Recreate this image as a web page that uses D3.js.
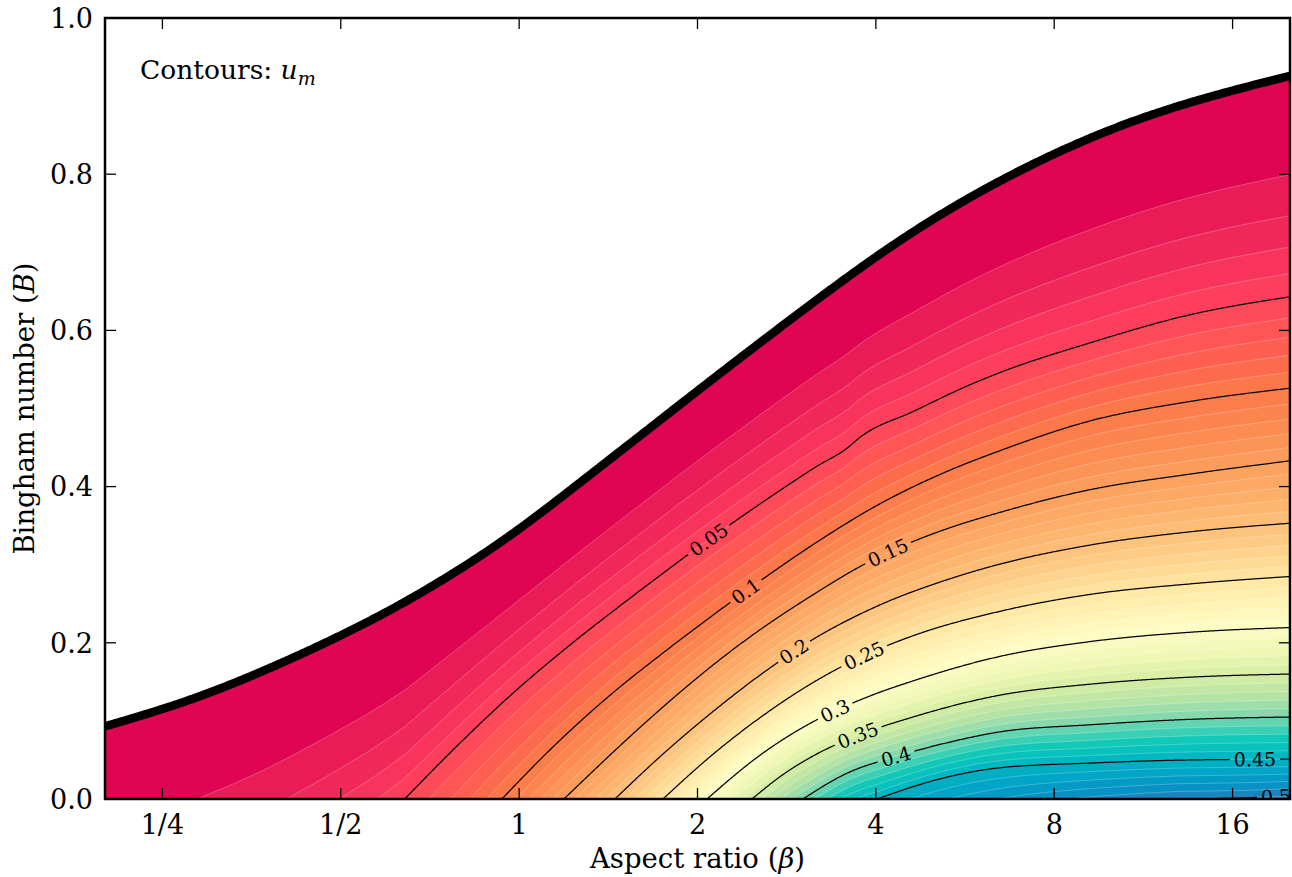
<!DOCTYPE html>
<html>
<head>
<meta charset="utf-8">
<script src="https://cdn.jsdelivr.net/npm/d3@7"></script>
<style>
  html, body { margin: 0; padding: 0; background: #fff; }
  svg { display: block; }
  text { font-family: "DejaVu Serif", serif; fill: #000; }
</style>
</head>
<body>
<svg id="chart" width="1292" height="877"></svg>
<script>
// ---------------- data ----------------
const betaTicks = [0.25, 0.5, 1, 2, 4, 8, 16];
const betaTickLabels = ["1/4", "1/2", "1", "2", "4", "8", "16"];
const binghamTicks = [0, 0.2, 0.4, 0.6, 0.8, 1.0];

// Yield limit (u_m = 0): [aspect ratio, Bingham number]
const yieldCurve = [
  [0.2, 0.093], [0.278, 0.127], [0.41, 0.179], [0.654, 0.256], [0.755, 0.284],
  [0.976, 0.340], [1.266, 0.405], [1.643, 0.472], [2.019, 0.525], [2.978, 0.623],
  [4.393, 0.715], [6.815, 0.80], [11.47, 0.874], [20, 0.926]
];

// Newtonian limit (B = 0): u_m against aspect ratio
const newtonianBeta = [0.2, 0.286, 0.405, 0.496, 0.576, 0.641, 0.935, 1.19, 1.451, 1.749, 2.075, 2.471, 3.013, 4.017, 13.04, 20];
const newtonianU    = [0.005, 0.01, 0.02, 0.03, 0.04, 0.05, 0.1, 0.15, 0.2, 0.25, 0.3, 0.35, 0.4, 0.45, 0.5, 0.504];

// Labelled contour lines of u_m: [aspect ratio, Bingham number]
const u05 = [[0.641, 0], [0.804, 0.0754], [0.976, 0.1354], [1.204, 0.194], [1.538, 0.257], [1.905, 0.31],
             [2.358, 0.36], [2.755, 0.395], [3.181, 0.426], [3.575, 0.449], [3.76, 0.463], [4.621, 0.496],
             [5.833, 0.532], [6.48, 0.546], [9.19, 0.584], [13.56, 0.62], [20, 0.643]];
const u10 = [[0.935, 0], [1.158, 0.0715], [1.44, 0.136], [1.749, 0.187], [2.099, 0.2325], [2.549, 0.279],
             [3.132, 0.3256], [4.064, 0.378], [5.273, 0.4194], [6.48, 0.446], [9.19, 0.484], [13.56, 0.509], [20, 0.526]];
const u15 = [[1.19, 0], [1.643, 0.0996], [1.868, 0.1366], [2.099, 0.1684], [2.424, 0.2047], [3.132, 0.2614],
             [3.834, 0.301], [4.567, 0.328], [5.273, 0.346], [6.48, 0.367], [9.19, 0.396], [13.56, 0.416], [20, 0.433]];
const u20 = [[1.451, 0], [1.749, 0.0576], [2.099, 0.1088], [2.579, 0.1613], [3.132, 0.2043], [4.064, 0.2485],
             [5.273, 0.2807], [6.48, 0.3008], [9.19, 0.3251], [13.56, 0.3421], [20, 0.3531]];
const u25 = [[1.749, 0], [2.099, 0.054], [2.549, 0.104], [3.132, 0.149], [3.805, 0.183], [4.621, 0.209],
             [6.48, 0.2403], [9.19, 0.2619], [13.56, 0.2754], [20, 0.2849]];
const u30 = [[2.075, 0], [2.579, 0.0588], [3.132, 0.0988], [3.909, 0.1319], [4.621, 0.1512], [6.48, 0.1826],
             [9.19, 0.2015], [13.56, 0.2135], [20, 0.2195]];
const u35 = [[2.471, 0], [2.809, 0.033], [3.132, 0.055], [3.717, 0.081], [4.621, 0.105], [6.48, 0.133],
             [9.19, 0.147], [13.56, 0.156], [20, 0.16]];
const u40 = [[3.013, 0], [3.575, 0.033], [4.308, 0.054], [5.273, 0.072], [6.48, 0.086], [9.19, 0.095],
             [13.56, 0.102], [20, 0.105]];
const u45 = [[4.017, 0], [5.273, 0.028], [6.48, 0.04], [9.19, 0.046], [13.56, 0.05], [20, 0.051]];
const u50 = [[13.04, 0], [16.47, 0.0013], [20, 0.004]];

const lineLevels = [0.05, 0.1, 0.15, 0.2, 0.25, 0.3, 0.35, 0.4, 0.45, 0.5];
const lineSets   = [u05, u10, u15, u20, u25, u30, u35, u40, u45, u50];
// aspect ratio at which each contour carries its inline label
const labelBeta  = [2.083, 2.405, 4.176, 2.898, 3.805, 3.412, 3.717, 4.308, 17.45, 18.87];

// filled bands
const fillStep = 0.01;
const fillMax = 0.5;
const colorStopU   = [0.005, 0.015, 0.025, 0.035, 0.045, 0.055, 0.075, 0.095, 0.125, 0.15, 0.175, 0.2, 0.225,
                      0.25, 0.275, 0.295, 0.325, 0.35, 0.375, 0.395, 0.41, 0.425, 0.445, 0.47, 0.49, 0.505];
const colorStopHex = ["#df0553", "#e91c58", "#f1295b", "#f8345d", "#fd3e5d", "#ff4a5a", "#fe5f50", "#fc774a",
                      "#fc8c52", "#fca05e", "#fdaf6a", "#fdc07a", "#fed38d", "#fee6a2", "#fff4b6", "#fdfcc4",
                      "#eef7b4", "#d6eea3", "#b4e3a6", "#86d9ad", "#4fd3b3", "#12c9b8", "#00b8c2", "#00a0c8",
                      "#0b8cc2", "#3478b6"];

// ---------------- layout ----------------
const X0 = 105, X1 = 1290, Y0 = 18, Y1 = 799;
const svg = d3.select("#chart");
svg.append("rect").attr("width", 1292).attr("height", 877).attr("fill", "#fff");

const x = d3.scaleLog().base(2).domain([0.2, 20]).range([X0, X1]);
const y = d3.scaleLinear().domain([0, 1]).range([Y1, Y0]);
const color = d3.scaleLinear().domain(colorStopU).range(colorStopHex)
  .interpolate(d3.interpolateRgb).clamp(true);

svg.append("defs").append("clipPath").attr("id", "plot-clip")
  .append("rect").attr("x", X0).attr("y", Y0).attr("width", X1 - X0).attr("height", Y1 - Y0);

// monotone cubic through (xs, ys), linear beyond the ends
function monotone(xs, ys) {
  const n = xs.length, h = [], s = [];
  for (let i = 0; i < n - 1; i++) { h.push(xs[i + 1] - xs[i]); s.push((ys[i + 1] - ys[i]) / h[i]); }
  const m = new Array(n).fill(0);
  for (let i = 1; i < n - 1; i++) {
    const p = (s[i - 1] * h[i] + s[i] * h[i - 1]) / (h[i - 1] + h[i]);
    m[i] = (Math.sign(s[i - 1]) + Math.sign(s[i])) *
           Math.min(Math.abs(s[i - 1]), Math.abs(s[i]), 0.5 * Math.abs(p)) || 0;
  }
  m[0] = n > 2 ? (3 * s[0] - m[1]) / 2 : s[0];
  m[n - 1] = n > 2 ? (3 * s[n - 2] - m[n - 2]) / 2 : s[n - 2];
  if (Math.sign(m[0]) !== Math.sign(s[0])) m[0] = 0;
  if (Math.sign(m[n - 1]) !== Math.sign(s[n - 2])) m[n - 1] = 0;
  return function (v) {
    if (v <= xs[0]) return ys[0] + m[0] * (v - xs[0]);
    if (v >= xs[n - 1]) return ys[n - 1] + m[n - 1] * (v - xs[n - 1]);
    const i = Math.min(n - 2, Math.max(0, d3.bisectRight(xs, v) - 1));
    const hh = h[i], t = (v - xs[i]) / hh, t2 = t * t, t3 = t2 * t;
    return (2 * t3 - 3 * t2 + 1) * ys[i] + (t3 - 2 * t2 + t) * hh * m[i] +
           (-2 * t3 + 3 * t2) * ys[i + 1] + (t3 - t2) * hh * m[i + 1];
  };
}

// natural cubic spline (C2) for the yield limit
function naturalSpline(xs, ys) {
  const n = xs.length, h = [];
  for (let i = 0; i < n - 1; i++) h.push(xs[i + 1] - xs[i]);
  const a = new Array(n).fill(0), b = new Array(n).fill(1), c = new Array(n).fill(0), r = new Array(n).fill(0);
  for (let i = 1; i < n - 1; i++) {
    a[i] = h[i - 1]; b[i] = 2 * (h[i - 1] + h[i]); c[i] = h[i];
    r[i] = 6 * ((ys[i + 1] - ys[i]) / h[i] - (ys[i] - ys[i - 1]) / h[i - 1]);
  }
  for (let i = 1; i < n; i++) { const w = a[i] / b[i - 1]; b[i] -= w * c[i - 1]; r[i] -= w * r[i - 1]; }
  const M = new Array(n).fill(0);
  M[n - 1] = r[n - 1] / b[n - 1];
  for (let i = n - 2; i >= 0; i--) M[i] = (r[i] - c[i] * M[i + 1]) / b[i];
  return function (v) {
    const i = Math.min(n - 2, Math.max(0, d3.bisectRight(xs, v) - 1));
    const hh = h[i], A = xs[i + 1] - v, B = v - xs[i];
    return M[i] * A * A * A / (6 * hh) + M[i + 1] * B * B * B / (6 * hh) +
           (ys[i] / hh - M[i] * hh / 6) * A + (ys[i + 1] / hh - M[i + 1] * hh / 6) * B;
  };
}

const yieldFn = naturalSpline(yieldCurve.map(d => x(d[0])), yieldCurve.map(d => d[1]));
const newtonFn = monotone(newtonianBeta.map(b => x(b)), newtonianU);
const isolines = lineLevels.map((level, k) => {
  const pts = lineSets[k];
  const xs = pts.map(d => x(d[0]));
  return { level, fn: monotone(xs, pts.map(d => d[1])), xStart: xs[0], labelX: x(labelBeta[k]) };
});

// u_m field on a pixel grid, stored as signed sqrt(u_m) so the yield edge stays sharp
function columnNodes(px) {
  const u0 = Math.max(newtonFn(px), 1e-6);
  const Bc = yieldFn(px);
  const nodes = [[0, Math.sqrt(u0)]];
  for (let k = isolines.length - 1; k >= 0; k--) {
    const iso = isolines[k];
    if (px <= iso.xStart || iso.level >= u0) continue;
    const b = iso.fn(px);
    const last = nodes[nodes.length - 1][0];
    if (b > last + 1e-5 && b < Bc - 1e-5) nodes.push([b, Math.sqrt(iso.level)]);
  }
  nodes.push([Bc, 0]);
  return nodes;
}
function nodeValue(nodes, B) {
  if (B <= 0) return nodes[0][1];
  const n = nodes.length;
  if (B >= nodes[n - 1][0]) {
    const [b0, w0] = nodes[n - 2], b1 = nodes[n - 1][0];
    return -(B - b1) * w0 / (b1 - b0);
  }
  for (let i = 1; i < n; i++) {
    if (B <= nodes[i][0]) {
      const [b0, w0] = nodes[i - 1], [b1, w1] = nodes[i];
      return w0 + (w1 - w0) * (B - b0) / (b1 - b0);
    }
  }
  return 0;
}

const step = 2;
const nx = Math.ceil((X1 - X0) / step) + 2, ny = Math.ceil((Y1 - Y0) / step) + 2;
const field = new Float64Array(nx * ny);
for (let i = 0; i < nx; i++) {
  const nodes = columnNodes(X0 + i * step);
  for (let j = 0; j < ny; j++) field[j * nx + i] = nodeValue(nodes, y.invert(Y0 + j * step));
}

const fillLevels = d3.range(0, fillMax + fillStep / 2, fillStep);
const bands = d3.contours().size([nx, ny]).thresholds(fillLevels.map(Math.sqrt))(field);
const gridPath = d3.geoPath(d3.geoTransform({
  point(gx, gy) { this.stream.point(X0 + (gx - 0.5) * step, Y0 + (gy - 0.5) * step); }
}));

const plot = svg.append("g").attr("clip-path", "url(#plot-clip)");
plot.append("g").selectAll("path").data(bands).join("path")
  .attr("d", gridPath)
  .attr("fill", (d, k) => color(fillLevels[k] + fillStep / 2))
  .attr("stroke", (d, k) => k === 0 ? "none" : "#ffffff")
  .attr("stroke-opacity", 0.3)
  .attr("stroke-width", 0.8);

// ---------------- labelled contour lines ----------------
const lineGen = d3.line();
const lineG = plot.append("g");
const labelG = plot.append("g");

function pointAt(pts, cum, s) {
  let i = d3.bisectRight(cum, s) - 1;
  i = Math.max(0, Math.min(pts.length - 2, i));
  const t = (s - cum[i]) / ((cum[i + 1] - cum[i]) || 1);
  return [pts[i][0] + t * (pts[i + 1][0] - pts[i][0]), pts[i][1] + t * (pts[i + 1][1] - pts[i][1])];
}

isolines.forEach(iso => {
  const pts = [];
  for (let px = iso.xStart; px <= X1 + 3; px += 1) pts.push([px, y(Math.max(iso.fn(px), -0.01))]);
  pts[0] = [iso.xStart, y(0)];
  const cum = [0];
  for (let i = 1; i < pts.length; i++) cum.push(cum[i - 1] + Math.hypot(pts[i][0] - pts[i - 1][0], pts[i][1] - pts[i - 1][1]));

  const txt = labelG.append("text")
    .attr("font-size", 19).attr("text-anchor", "middle").attr("dy", "0.36em")
    .text(String(+iso.level.toFixed(2)));
  const half = txt.node().getComputedTextLength() / 2 + 4;

  let k0 = pts.findIndex(p => p[0] >= iso.labelX);
  if (k0 < 0) k0 = pts.length - 1;
  const s0 = cum[k0];
  const c = pointAt(pts, cum, s0);
  const a = pointAt(pts, cum, s0 - half), b = pointAt(pts, cum, s0 + half);
  const angle = Math.atan2(b[1] - a[1], b[0] - a[0]) * 180 / Math.PI;
  txt.attr("transform", `translate(${c[0]},${c[1]}) rotate(${angle})`);

  const before = pts.filter((p, i) => cum[i] < s0 - half).concat([a]);
  const after = [b].concat(pts.filter((p, i) => cum[i] > s0 + half));
  [before, after].forEach(seg => {
    if (seg.length > 1) lineG.append("path").attr("d", lineGen(seg))
      .attr("fill", "none").attr("stroke", "#000").attr("stroke-width", 1.25);
  });
});

// ---------------- yield limit ----------------
const yieldPts = d3.range(X0 - 6, X1 + 7, 2).map(px => [px, y(yieldFn(px))]);
plot.append("path").attr("d", lineGen(yieldPts))
  .attr("fill", "none").attr("stroke", "#000").attr("stroke-width", 8.5);

// ---------------- axes ----------------
const axes = svg.append("g").attr("stroke", "#000");
const tickLen = 11;
betaTicks.forEach(b => {
  axes.append("line").attr("x1", x(b)).attr("x2", x(b)).attr("y1", Y1).attr("y2", Y1 - tickLen).attr("stroke-width", 1.3);
  axes.append("line").attr("x1", x(b)).attr("x2", x(b)).attr("y1", Y0).attr("y2", Y0 + tickLen).attr("stroke-width", 1.3);
});
binghamTicks.forEach(v => {
  axes.append("line").attr("x1", X0).attr("x2", X0 + tickLen).attr("y1", y(v)).attr("y2", y(v)).attr("stroke-width", 1.3);
  axes.append("line").attr("x1", X1).attr("x2", X1 - tickLen).attr("y1", y(v)).attr("y2", y(v)).attr("stroke-width", 1.3);
});
axes.append("rect").attr("x", X0).attr("y", Y0).attr("width", X1 - X0).attr("height", Y1 - Y0)
  .attr("fill", "none").attr("stroke-width", 2.5);

const labels = svg.append("g").attr("font-size", 27);
labels.selectAll(".xt").data(betaTicks).join("text")
  .attr("x", d => x(d)).attr("y", 834).attr("text-anchor", "middle")
  .text((d, i) => betaTickLabels[i]);
labels.selectAll(".yt").data(binghamTicks).join("text")
  .attr("x", 93).attr("y", d => y(d) + 9.8).attr("text-anchor", "end")
  .text(d => d3.format(".1f")(d));

const xl = labels.append("text").attr("x", (X0 + X1) / 2).attr("y", 868)
  .attr("text-anchor", "middle").attr("font-size", 27.5);
xl.append("tspan").text("Aspect ratio (");
xl.append("tspan").attr("font-style", "italic").text("β");
xl.append("tspan").text(")");

const yl = labels.append("text").attr("text-anchor", "middle").attr("font-size", 27.5)
  .attr("transform", `translate(34,${(Y0 + Y1) / 2}) rotate(-90)`);
yl.append("tspan").text("Bingham number (");
yl.append("tspan").attr("font-style", "italic").text("B");
yl.append("tspan").text(")");

const legend = labels.append("text").attr("x", 140).attr("y", 79).attr("font-size", 26.5);
legend.append("tspan").text("Contours: ");
legend.append("tspan").attr("font-style", "italic").text("u");
legend.append("tspan").attr("font-style", "italic").attr("font-size", 19).attr("dy", 6).text("m");
</script>
</body>
</html>
